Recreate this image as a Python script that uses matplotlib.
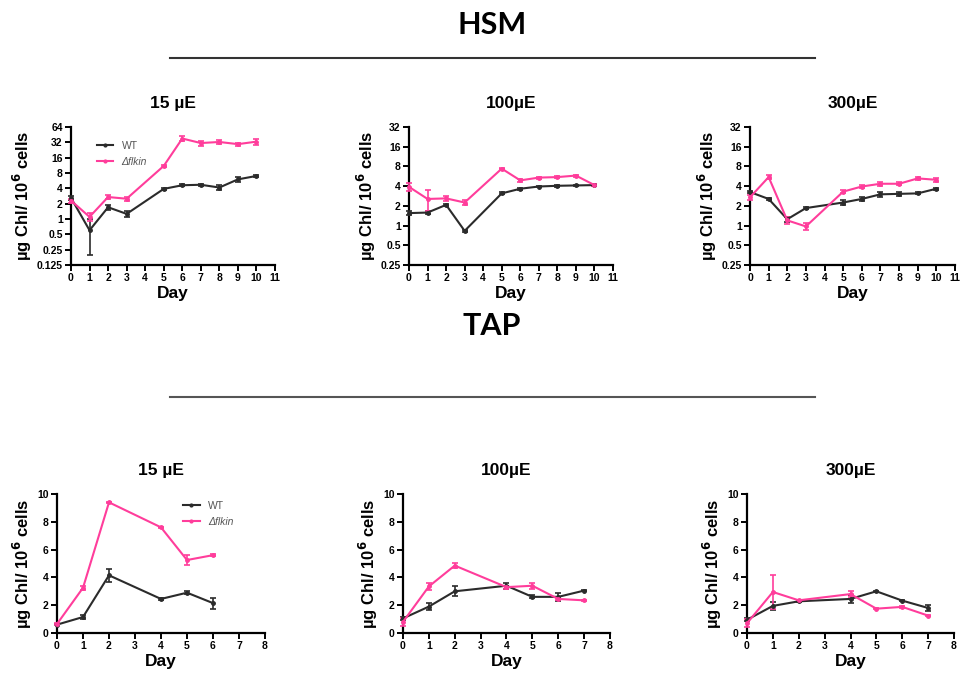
#! /usr/bin/env python

import numpy as np
import matplotlib
matplotlib.use("Agg")
import matplotlib.pyplot as plt
from matplotlib.lines import Line2D

plt.rcParams['font.family'] = ['Liberation Sans', 'DejaVu Sans']

# colours
wt_col = '#2b2b2b'
ko_col = '#ff3d9b'

# ---------------- HSM (log2 axes) ----------------
hsm_days = [0, 1, 2, 3, 5, 6, 7, 8, 9, 10]
hsm_titles = ['15 µE', '100µE', '300µE']

hsm15_wt = [2.6, 0.6, 1.7, 1.26, 3.9, 4.6, 4.7, 4.15, 6.0, 7.0]
hsm15_wt_err = [0.2, 0.4, 0.2, 0.15, 0.2, 0.2, 0.2, 0.4, 0.6, 0.2]
hsm15_ko = [2.3, 1.1, 2.7, 2.5, 11.0, 38.0, 31.0, 32.5, 29.5, 33.0]
hsm15_ko_err = [0.2, 0.2, 0.2, 0.2, 0.5, 4.0, 3.5, 2.5, 2.0, 5.0]

hsm100_wt = [1.55, 1.58, 2.07, 0.83, 3.1, 3.65, 3.95, 4.05, 4.1, 4.15]
hsm100_wt_err = [0.1, 0.1, 0.05, 0.03, 0.1, 0.1, 0.1, 0.1, 0.1, 0.1]
hsm100_ko = [3.9, 2.55, 2.6, 2.25, 7.4, 4.9, 5.4, 5.5, 5.8, 4.15]
hsm100_ko_err = [0.5, 0.9, 0.2, 0.2, 0.2, 0.2, 0.2, 0.2, 0.2, 0.1]

hsm300_wt = [3.25, 2.55, 1.25, 1.85, 2.25, 2.55, 3.0, 3.05, 3.1, 3.65]
hsm300_wt_err = [0.1, 0.1, 0.1, 0.05, 0.2, 0.2, 0.25, 0.2, 0.1, 0.1]
hsm300_ko = [2.7, 5.5, 1.2, 0.97, 3.3, 3.95, 4.35, 4.35, 5.25, 5.0]
hsm300_ko_err = [0.2, 0.4, 0.15, 0.12, 0.15, 0.2, 0.3, 0.2, 0.2, 0.3]

hsm_yticks = [0.125, 0.25, 0.5, 1, 2, 4, 8, 16, 32, 64]
hsm_yticklabels = ['0.125', '0.25', '0.5', '1', '2', '4', '8', '16', '32', '64']

# ---------------- TAP (linear axes) ----------------
tap15_days = [0, 1, 2, 4, 5, 6]
tap15_wt = [0.6, 1.15, 4.15, 2.45, 2.9, 2.15]
tap15_wt_err = [0.05, 0.15, 0.45, 0.05, 0.1, 0.4]
tap15_ko = [0.65, 3.25, 9.4, 7.6, 5.25, 5.6]
tap15_ko_err = [0.05, 0.15, 0.05, 0.05, 0.35, 0.05]

tap_days = [0, 1, 2, 4, 5, 6, 7]
tap100_wt = [1.05, 1.9, 3.0, 3.4, 2.6, 2.6, 3.05]
tap100_wt_err = [0.1, 0.25, 0.35, 0.2, 0.1, 0.3, 0.05]
tap100_ko = [0.8, 3.35, 4.85, 3.3, 3.4, 2.45, 2.35]
tap100_ko_err = [0.3, 0.25, 0.2, 0.1, 0.2, 0.1, 0.05]

tap300_wt = [0.95, 1.95, 2.28, 2.45, 3.0, 2.33, 1.8]
tap300_wt_err = [0.1, 0.3, 0.05, 0.3, 0.05, 0.05, 0.2]
tap300_ko = [0.7, 2.95, 2.35, 2.8, 1.75, 1.88, 1.25]
tap300_ko_err = [0.3, 1.2, 0.05, 0.2, 0.05, 0.05, 0.05]

W, H = 966, 681
fig = plt.figure(figsize=(W / 100, H / 100), dpi=100)


def px_axes(x0, x1, ytop, ybot):
    return fig.add_axes([x0 / W, 1 - ybot / H, (x1 - x0) / W, (ybot - ytop) / H])


def style(ax, title):
    for s in ['top', 'right']:
        ax.spines[s].set_visible(False)
    for s in ['left', 'bottom']:
        ax.spines[s].set_linewidth(1.6)
    ax.tick_params(direction='out', length=4, width=1.4, labelsize=7.5, pad=2)
    for lab in ax.get_xticklabels() + ax.get_yticklabels():
        lab.set_fontweight('bold')
    ax.set_xlabel('Day', fontsize=12.5, fontweight='bold', labelpad=2)
    ax.set_ylabel('µg Chl/ 10$^{\\mathbf{6}}$ cells', fontsize=12, fontweight='bold', labelpad=2)
    ax.set_title(title, fontsize=12.5, fontweight='bold', pad=14)


def series(ax, x, y, e, col):
    ax.errorbar(x, y, yerr=e, color=col, lw=1.5, marker='o', ms=2.5,
                elinewidth=1.2, capsize=2.5, capthick=1.2, clip_on=False, zorder=3)


def add_legend(ax, loc):
    handles = [Line2D([], [], color=wt_col, lw=1.5, marker='o', ms=2),
               Line2D([], [], color=ko_col, lw=1.5, marker='o', ms=2)]
    leg = ax.legend(handles, ['WT', 'Δflkin'], loc='upper left', bbox_to_anchor=loc,
                    fontsize=7.5, handlelength=1.6, labelspacing=0.6, frameon=False)
    for t in leg.get_texts():
        t.set_color('#555555')
    leg.get_texts()[1].set_fontstyle('italic')


# HSM row
hsm_wt = [hsm15_wt, hsm100_wt, hsm300_wt]
hsm_wt_e = [hsm15_wt_err, hsm100_wt_err, hsm300_wt_err]
hsm_ko = [hsm15_ko, hsm100_ko, hsm300_ko]
hsm_ko_e = [hsm15_ko_err, hsm100_ko_err, hsm300_ko_err]
hsm_x = [(71, 275), (409, 613), (750, 955)]
hsm_ylim = [(0.125, 64), (0.25, 32), (0.25, 32)]

for i in range(3):
    ax = px_axes(hsm_x[i][0], hsm_x[i][1], 127, 265)
    ax.set_yscale('log', base=2)
    series(ax, hsm_days, hsm_wt[i], hsm_wt_e[i], wt_col)
    series(ax, hsm_days, hsm_ko[i], hsm_ko_e[i], ko_col)
    ax.set_xlim(0, 11)
    ax.set_xticks(range(12))
    ax.set_ylim(*hsm_ylim[i])
    lo, hi = hsm_ylim[i]
    ticks = [t for t in hsm_yticks if lo <= t <= hi]
    ax.set_yticks(ticks)
    ax.set_yticklabels([hsm_yticklabels[hsm_yticks.index(t)] for t in ticks])
    ax.minorticks_off()
    style(ax, hsm_titles[i])
    if i == 0:
        add_legend(ax, (0.08, 0.97))

# TAP row
tap_x_data = [tap15_days, tap_days, tap_days]
tap_wt = [tap15_wt, tap100_wt, tap300_wt]
tap_wt_e = [tap15_wt_err, tap100_wt_err, tap300_wt_err]
tap_ko = [tap15_ko, tap100_ko, tap300_ko]
tap_ko_e = [tap15_ko_err, tap100_ko_err, tap300_ko_err]
tap_x = [(57, 265), (403, 610), (747, 954)]

for i in range(3):
    ax = px_axes(tap_x[i][0], tap_x[i][1], 494, 633)
    series(ax, tap_x_data[i], tap_wt[i], tap_wt_e[i], wt_col)
    series(ax, tap_x_data[i], tap_ko[i], tap_ko_e[i], ko_col)
    ax.set_xlim(0, 8)
    ax.set_xticks(range(9))
    ax.set_ylim(0, 10)
    ax.set_yticks(range(0, 11, 2))
    style(ax, hsm_titles[i])
    if i == 0:
        add_legend(ax, (0.56, 1.02))

# section headers with rules
fig.text(492 / W, 1 - 25 / H, 'HSM', ha='center', va='center', fontsize=22,
         fontweight='bold', family='Lato')
fig.add_artist(Line2D([170 / W, 815 / W], [1 - 58 / H, 1 - 58 / H], color='#333333', lw=1.5))
fig.text(492 / W, 1 - 326 / H, 'TAP', ha='center', va='center', fontsize=22,
         fontweight='bold', family='Lato')
fig.add_artist(Line2D([170 / W, 815 / W], [1 - 397 / H, 1 - 397 / H], color='#555555', lw=1.5))

plt.savefig('out.png', dpi=100)
